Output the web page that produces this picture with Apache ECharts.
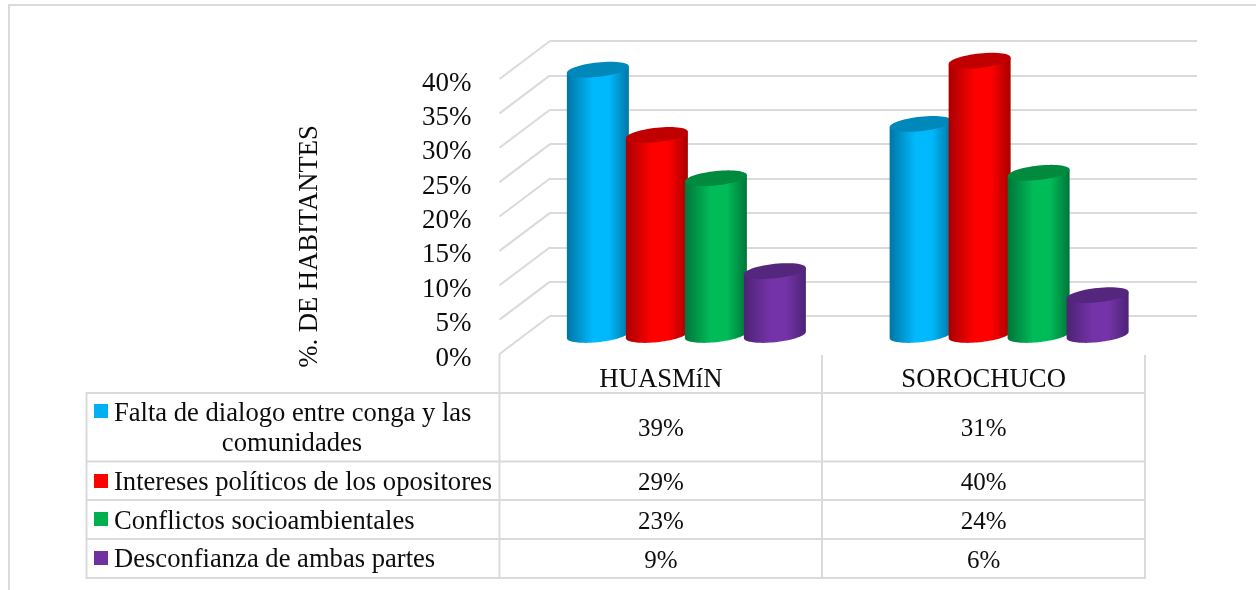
<!DOCTYPE html>
<html><head><meta charset="utf-8">
<style>html,body{margin:0;padding:0;background:#fff}#c{width:1256px;height:590px}</style>
<script src="https://cdn.jsdelivr.net/npm/echarts@6/dist/echarts.min.js"></script>
</head><body><div id="c"></div>
<script>
const categories = ['HUASMíN', 'SOROCHUCO'];
const seriesNames = ['Falta de dialogo entre conga y las comunidades', 'Intereses políticos de los opositores', 'Conflictos socioambientales', 'Desconfianza de ambas partes'];
const faltaDialogo = [38.6, 30.7];
const interesesPoliticos = [29.1, 39.9];
const conflictos = [22.8, 23.6];
const desconfianza = [9.3, 5.8];
const tableLabels = [['39%', '31%'], ['29%', '40%'], ['23%', '24%'], ['9%', '6%']];
const axisTicks = [0, 5, 10, 15, 20, 25, 30, 35, 40];
const swatch = ['#00B0F0', '#FF0000', '#00B050', '#7030A0'];
const shades = [
  { edge: '#0076A4', mid: '#00B9FC', top: '#0088BA' },
  { edge: '#A80000', mid: '#FF0000', top: '#C00000' },
  { edge: '#00753A', mid: '#00BC58', top: '#008A3E' },
  { edge: '#4C2374', mid: '#7433A8', top: '#54267C' }
];

const FONT = '"Liberation Serif","Times New Roman",serif';
const GRID = '#DADADA';
const TXT = '#0d0d0d';
const A = 31, B = 7.2, K = 3.2, STEP = 59, DX = 25.5, DY = 19;

function arc(cx, cy, t0, t1, n) {
  const out = [];
  for (let i = 0; i <= n; i++) {
    const t = t0 + (t1 - t0) * i / n;
    out.push([cx + A * Math.cos(t), cy - K * Math.cos(t) + B * Math.sin(t)]);
  }
  return out;
}
function cylinder(si) {
  return function (params, api) {
    const cat = api.value(0), v = api.value(1);
    const top = api.coord([cat, v]);
    const base = api.coord([cat, 0]);
    const cx = top[0] + DX + (si - 1.5) * STEP;
    const ty = top[1] - DY, by = base[1] - DY;
    const s = shades[si];
    const body = [[cx + A, ty - K]].concat(arc(cx, by, 0, Math.PI, 40), [[cx - A, ty + K]]);
    return {
      type: 'group',
      children: [
        { type: 'polygon', shape: { points: body }, style: { fill: {
          type: 'linear', x: 0, y: 0, x2: 1, y2: 0, colorStops: [
            { offset: 0, color: s.edge }, { offset: 0.42, color: s.mid }, { offset: 0.68, color: s.mid }, { offset: 1, color: s.edge }
          ] } } },
        { type: 'polygon', shape: { points: arc(cx, ty, 0, Math.PI * 2, 60) }, style: { fill: s.top } }
      ]
    };
  };
}
const values = [faltaDialogo, interesesPoliticos, conflictos, desconfianza];
const barSeries = seriesNames.map((name, si) => ({
  name, type: 'custom', xAxisIndex: 0, yAxisIndex: 0, z: 5 + si, clip: false,
  encode: { x: 0, y: 1 },
  data: categories.map((c, ci) => [ci, values[si][ci]]),
  renderItem: cylinder(si)
}));
const diagonals = {
  type: 'custom', xAxisIndex: 0, yAxisIndex: 0, z: 1, clip: false, silent: true,
  data: axisTicks.map(t => [0, t]),
  encode: { x: 0, y: 1 },
  renderItem(params, api) {
    const p = api.coord([0, api.value(1)]);
    const x0 = 499.5;
    return { type: 'line', shape: { x1: x0, y1: p[1], x2: x0 + 50.5, y2: p[1] - 38 }, style: { stroke: GRID, lineWidth: 2 } };
  }
};
const rowY = [429, 483, 522, 561];
const tableText = {
  type: 'custom', xAxisIndex: 0, yAxisIndex: 0, z: 10, clip: false, silent: true,
  data: tableLabels.flatMap((row, r) => row.map((l, c) => [c, 0, r, l])),
  encode: { x: 0, y: 1 },
  renderItem(params, api) {
    const p = api.coord([api.value(0), 0]);
    const r = api.value(2);
    return { type: 'text', style: { x: p[0], y: rowY[r], text: tableLabels[r][api.value(0)], align: 'center', verticalAlign: 'middle', font: '25px ' + FONT, fill: TXT } };
  }
};

const hLine = (x1, x2, y) => ({ type: 'line', shape: { x1, y1: y, x2, y2: y }, style: { stroke: GRID, lineWidth: 2 }, silent: true });
const vLine = (x, y1, y2) => ({ type: 'line', shape: { x1: x, y1, x2: x, y2 }, style: { stroke: GRID, lineWidth: 2 }, silent: true });
const graphicEls = [
  hLine(8, 1256, 5), vLine(9, 4, 590),
  hLine(86, 1146, 393), hLine(86, 1146, 461.5), hLine(86, 1146, 500), hLine(86, 1146, 539), hLine(86, 1146, 578),
  vLine(86.5, 392, 579), vLine(499.5, 354, 579), vLine(822, 355, 579), vLine(1145, 355, 579)
];
const swatchY = [404, 474, 512, 551];
const legendText = [
  [{ t: 'Falta de dialogo entre conga y las', x: 114, y: 414, a: 'left' }, { t: 'comunidades', x: 292, y: 444, a: 'center' }],
  [{ t: seriesNames[1], x: 114, y: 483, a: 'left' }],
  [{ t: seriesNames[2], x: 114, y: 522, a: 'left' }],
  [{ t: seriesNames[3], x: 114, y: 560, a: 'left' }]
];
swatch.forEach((col, i) => {
  graphicEls.push({ type: 'rect', shape: { x: 94, y: swatchY[i], width: 14, height: 14 }, style: { fill: col }, silent: true });
  legendText[i].forEach(l => graphicEls.push({ type: 'text', silent: true, style: { x: l.x, y: l.y, text: l.t, align: l.a, verticalAlign: 'middle', font: '26.6px ' + FONT, fill: TXT } }));
});

const chart = echarts.init(document.getElementById('c'), null, { renderer: 'canvas' });
chart.setOption({
  animation: false,
  backgroundColor: '#fff',
  graphic: { elements: graphicEls },
  grid: [
    { left: 499.5, top: 79, width: 645.5, height: 275 },
    { left: 550, top: 41, width: 647, height: 275 }
  ],
  xAxis: [
    { type: 'category', gridIndex: 0, data: categories, axisLine: { show: false }, axisTick: { show: false },
      axisLabel: { margin: 13, fontFamily: FONT, fontSize: 26.7, color: TXT, lineHeight: 26 } },
    { type: 'category', gridIndex: 1, data: categories, show: false }
  ],
  yAxis: [
    { type: 'value', gridIndex: 0, min: 0, max: 40, interval: 5, name: '%. DE HABITANTES', nameLocation: 'middle', nameRotate: 90, nameGap: 176,
      nameTextStyle: { fontFamily: FONT, fontSize: 26.6, color: TXT, padding: [0, 60, 0, 0] },
      axisLine: { show: false }, axisTick: { show: false }, splitLine: { show: false },
      axisLabel: { formatter: '{a|{value}%}', margin: 28, rich: { a: { fontFamily: FONT, fontSize: 27, color: TXT, padding: [9, 0, 0, 0] } } } },
    { type: 'value', gridIndex: 1, min: 0, max: 40, interval: 5, axisLine: { show: false }, axisTick: { show: false },
      axisLabel: { show: false }, splitLine: { show: true, lineStyle: { color: GRID, width: 2 } } }
  ],
  series: [diagonals, ...barSeries, tableText]
});
</script></body></html>
